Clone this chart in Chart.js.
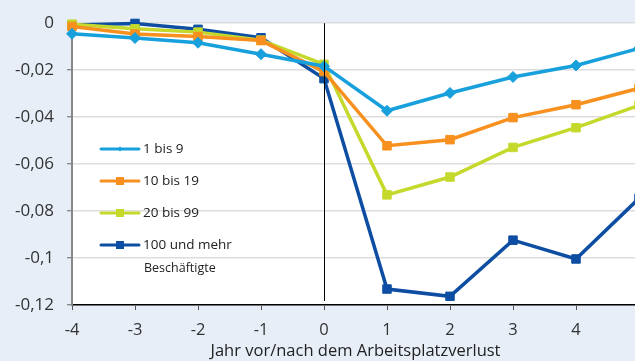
<!DOCTYPE html>
<html>
<head>
<meta charset="utf-8">
<script src="https://cdn.jsdelivr.net/npm/chart.js@4/dist/chart.umd.min.js"></script>
<style>
  html, body { margin:0; padding:0; background:#e7eef8; overflow:hidden; width:635px; height:361px; }
  #wrap { position:relative; width:650px; height:361px; }
</style>
</head>
<body>
<div id="wrap"><canvas id="c" width="650" height="361"></canvas></div>
<script>
// ---- data ----
const years = [-4, -3, -2, -1, 0, 1, 2, 3, 4, 5];
const seriesLabels = ['1 bis 9', '10 bis 19', '20 bis 99', '100 und mehr'];
const legendNote = 'Beschäftigte';
const s1bis9     = [-0.0045, -0.0063, -0.0083, -0.0132, -0.0183, -0.0373, -0.0297, -0.0229, -0.0180, -0.0107];
const s10bis19   = [-0.0014, -0.0046, -0.0057, -0.0074, -0.0206, -0.0522, -0.0496, -0.0402, -0.0347, -0.0277];
const s20bis99   = [-0.0004, -0.0024, -0.0038, -0.0072, -0.0175, -0.0731, -0.0655, -0.0529, -0.0445, -0.0350];
const s100mehr   = [-0.0008, -0.0001, -0.0026, -0.0062, -0.0236, -0.1132, -0.1163, -0.0924, -0.1004, -0.0746];
const yTickValues = [0, -0.02, -0.04, -0.06, -0.08, -0.1, -0.12];
const yTickLabels = ['0', '-0,02', '-0,04', '-0,06', '-0,08', '-0,1', '-0,12'];
const xTickLabels = ['-4', '-3', '-2', '-1', '0', '1', '2', '3', '4', ''];
const xTitle = 'Jahr vor/nach dem Arbeitsplatzverlust';

const colors = ['#17a0dc', '#f7901e', '#c5d92d', '#0d4ea3'];
const pointStyles = ['rectRot', 'rect', 'rect', 'rect'];
const seriesValues = [s1bis9, s10bis19, s20bis99, s100mehr];
const FONT = "'Open Sans', 'Noto Sans', sans-serif";

const datasets = seriesValues.map((vals, i) => ({
  label: seriesLabels[i],
  data: years.map((x, j) => ({ x: x, y: vals[j] })),
  borderColor: colors[i],
  backgroundColor: colors[i],
  borderWidth: 3.5,
  pointStyle: pointStyles[i],
  pointRadius: i === 0 ? 5.5 : 6,
  pointBorderWidth: 1,
  pointBorderColor: colors[i],
  pointBackgroundColor: colors[i],
  tension: 0,
  clip: false
}));

const bgPlugin = {
  id: 'bg',
  beforeDraw(chart) {
    const { ctx, chartArea: a } = chart;
    ctx.save();
    ctx.fillStyle = '#ffffff';
    ctx.fillRect(a.left, a.top, a.right - a.left, a.bottom - a.top);
    ctx.restore();
  },
  afterDatasetsDraw(chart) {
    const { ctx, chartArea: a, scales } = chart;
    const x0 = Math.round(scales.x.getPixelForValue(0)) + 0.5;
    ctx.save();
    ctx.strokeStyle = '#000';
    ctx.lineWidth = 1;
    ctx.beginPath();
    ctx.moveTo(x0, a.top);
    ctx.lineTo(x0, a.bottom - 4);
    ctx.stroke();
    ctx.restore();
  }
};

const legendPlugin = {
  id: 'innerLegend',
  afterDraw(chart) {
    const { ctx } = chart;
    const x1 = 101, x2 = 139, tx = 143;
    const ys = [149, 181, 213, 245];
    ctx.save();
    chart.data.datasets.forEach((ds, i) => {
      const y = ys[i];
      ctx.strokeStyle = ds.borderColor;
      ctx.lineWidth = 3;
      ctx.lineCap = 'round';
      ctx.beginPath();
      ctx.moveTo(x1, y);
      ctx.lineTo(x2, y);
      ctx.stroke();
      ctx.fillStyle = ds.borderColor;
      const cx = (x1 + x2) / 2;
      if (ds.pointStyle === 'rectRot') {
        ctx.beginPath();
        ctx.moveTo(cx, y - 2.5); ctx.lineTo(cx + 2.5, y); ctx.lineTo(cx, y + 2.5); ctx.lineTo(cx - 2.5, y);
        ctx.closePath(); ctx.fill();
      } else {
        ctx.fillRect(cx - 4, y - 4, 8, 8);
      }
      ctx.fillStyle = '#222';
      ctx.font = '13.5px ' + FONT;
      ctx.textBaseline = 'middle';
      ctx.textAlign = 'left';
      ctx.fillText(ds.label, tx, y);
    });
    ctx.font = '12.5px ' + FONT;
    ctx.fillStyle = '#222';
    ctx.textBaseline = 'middle';
    ctx.fillText(legendNote, 144, 268);
    ctx.restore();
  }
};

new Chart(document.getElementById('c'), {
  type: 'line',
  data: { datasets },
  options: {
    responsive: false,
    animation: false,
    layout: { padding: { top: 22, right: 11, left: 0, bottom: 0 } },
    plugins: { legend: { display: false }, tooltip: { enabled: false } },
    scales: {
      x: {
        type: 'linear',
        min: -4, max: 5,
        afterBuildTicks(scale) { scale.ticks = years.map(v => ({ value: v })); },
        afterFit(scale) { scale.height = 56; },
        grid: { drawOnChartArea: false, drawTicks: true, tickLength: 5, color: '#555', lineWidth: 1 },
        border: { display: true, color: '#000', width: 1.5 },
        ticks: {
          color: '#333',
          font: { family: FONT, size: 16.5 },
          padding: 10,
          maxRotation: 0,
          autoSkip: false,
          callback(v) { const i = years.indexOf(v); return i >= 0 ? xTickLabels[i] : ''; }
        },
        title: {
          display: true, text: xTitle, color: '#222',
          font: { family: FONT, size: 16.5 },
          padding: { top: 0, bottom: 0 }
        }
      },
      y: {
        min: -0.12, max: 0,
        afterBuildTicks(scale) { scale.ticks = yTickValues.map(v => ({ value: v })); },
        afterFit(scale) { scale.width = 72; },
        grid: { color: '#dddddd', lineWidth: 1.5, drawTicks: true, tickLength: 5, tickColor: '#666', tickWidth: 1 },
        border: { display: true, color: '#888', width: 2 },
        ticks: {
          color: '#333',
          font: { family: FONT, size: 17 },
          padding: 13,
          callback(v) { const i = yTickValues.findIndex(t => Math.abs(t - v) < 1e-9); return i >= 0 ? yTickLabels[i] : ''; }
        }
      }
    }
  },
  plugins: [bgPlugin, legendPlugin]
});
</script>
</body>
</html>
